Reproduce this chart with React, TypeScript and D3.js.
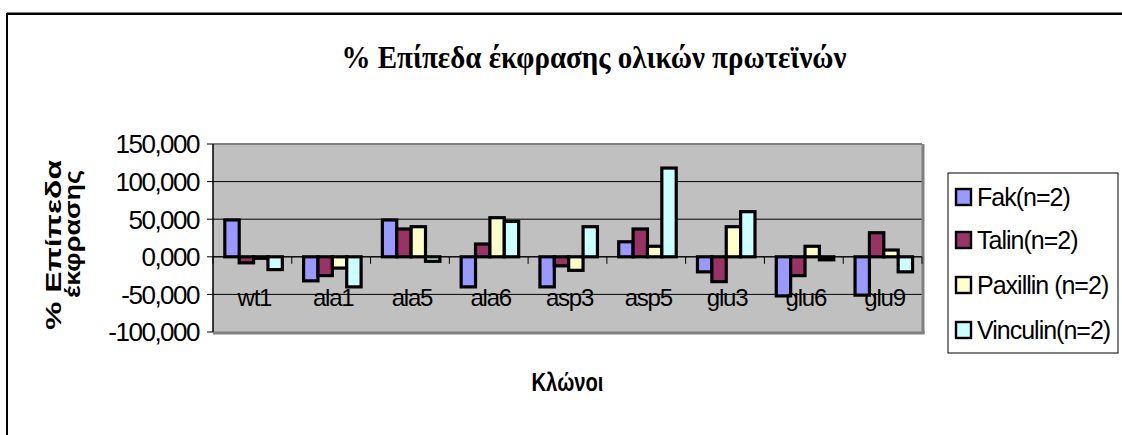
import React from 'react';
import * as d3 from 'd3';

// Clones on the category axis
const clones = ['wt1', 'ala1', 'ala5', 'ala6', 'asp3', 'asp5', 'glu3', 'glu6', 'glu9'];
// Series legend labels
const seriesNames = ['Fak(n=2)', 'Talin(n=2)', 'Paxillin (n=2)', 'Vinculin(n=2)'];
// % expression levels per clone
const fak = [49, -32, 49, -40, -40, 20, -20, -52, -51];
const talin = [-8, -25, 37, 17, -12, 37, -33, -25, 32];
const paxillin = [-2, -15, 40, 52, -18, 14, 40, 14, 9];
const vinculin = [-17, -40, -6, 47, 40, 118, 60, -4, -20];
const yTicks = [-100, -50, 0, 50, 100, 150];

const seriesValues = [fak, talin, paxillin, vinculin];
const colors = ['#9999FF', '#993366', '#FFFFCC', '#CCFFFF'];

const W = 1122;
const H = 435;
const plot = { left: 213, right: 922, top: 144, bottom: 332 };

const locale = d3.formatLocale({
  decimal: ',',
  thousands: '.',
  grouping: [3],
  currency: ['', '€'],
  minus: '-',
});
const fmt = locale.format('.3f');

const SANS = '"Liberation Sans", Arial, sans-serif';
const SERIF = '"Liberation Serif", "Times New Roman", serif';

export default function App() {
  const x0 = d3.scaleBand<string>().domain(clones).range([plot.left, plot.right]).padding(0);
  const bw = x0.bandwidth();
  const x1 = d3
    .scaleBand<number>()
    .domain(d3.range(seriesValues.length))
    .range([bw * 0.15, bw * 0.88])
    .padding(0);
  const y = d3.scaleLinear().domain([-100, 150]).range([plot.bottom, plot.top]);
  const y0 = y(0);

  const legendX = 948;
  const legendY = 173;
  const legendRows = [197, 240, 285, 330];

  return (
    <svg
      width={W}
      height={H}
      style={{ position: 'absolute', left: 0, top: 0, background: '#fff' }}
    >
      {/* chart frame */}
      <line x1={7} y1={12.5} x2={W} y2={12.5} stroke="#808080" strokeWidth={1} />
      <line x1={7} y1={14} x2={W} y2={14} stroke="#000" strokeWidth={2} />
      <line x1={7} y1={13} x2={7} y2={H} stroke="#000" strokeWidth={2} />

      {/* title */}
      <text
        x={594}
        y={68}
        textAnchor="middle"
        fontFamily={SERIF}
        fontWeight="bold"
        fontSize={32}
        textLength={505}
        lengthAdjust="spacingAndGlyphs"
      >
        % Επίπεδα  έκφρασης ολικών πρωτεϊνών
      </text>

      {/* plot area */}
      <rect
        x={plot.left}
        y={plot.top}
        width={plot.right - plot.left}
        height={plot.bottom - plot.top}
        fill="#C0C0C0"
      />
      {yTicks
        .filter((t) => t !== 150 && t !== -100)
        .map((t) => (
          <line key={t} x1={plot.left} x2={plot.right} y1={y(t)} y2={y(t)} stroke="#000" strokeWidth={1} />
        ))}
      {/* plot border */}
      <line x1={plot.left} x2={plot.right} y1={plot.top} y2={plot.top} stroke="#808080" strokeWidth={2} />
      <line x1={plot.right + 1} x2={plot.right + 1} y1={plot.top} y2={plot.bottom + 2} stroke="#808080" strokeWidth={3} />
      <line x1={plot.left} x2={plot.right + 2.5} y1={plot.bottom + 1} y2={plot.bottom + 1} stroke="#808080" strokeWidth={3} />

      {/* value axis */}
      <line x1={plot.left} x2={plot.left} y1={plot.top} y2={plot.bottom} stroke="#000" strokeWidth={1.5} />
      {yTicks.map((t) => (
        <g key={t}>
          <line x1={plot.left - 6} x2={plot.left} y1={y(t)} y2={y(t)} stroke="#000" strokeWidth={1} />
          <text
            x={199}
            y={y(t)}
            dy="0.36em"
            textAnchor="end"
            fontFamily={SANS}
            fontSize={26}
            letterSpacing={-1.5}
          >
            {fmt(t)}
          </text>
        </g>
      ))}

      {/* bars */}
      {clones.map((c, i) => (
        <g key={c} transform={`translate(${x0(c)},0)`}>
          {seriesValues.map((vals, s) => {
            const v = vals[i];
            const top = Math.min(y(v), y0);
            const h = Math.abs(y(v) - y0);
            return (
              <rect
                key={s}
                x={x1(s)}
                y={top}
                width={x1.bandwidth()}
                height={h}
                fill={colors[s]}
                stroke="#000"
                strokeWidth={3.2}
              />
            );
          })}
        </g>
      ))}

      {/* category axis at zero */}
      <line x1={plot.left} x2={plot.right} y1={y0} y2={y0} stroke="#000" strokeWidth={1} />
      {d3.range(clones.length + 1).map((k) => {
        const xx = plot.left + k * bw;
        return <line key={k} x1={xx} x2={xx} y1={y0} y2={y0 + 7} stroke="#000" strokeWidth={1} />;
      })}
      {clones.map((c) => (
        <text
          key={c}
          x={(x0(c) as number) + bw / 2 + 2}
          y={306}
          textAnchor="middle"
          fontFamily={SANS}
          fontSize={24}
          letterSpacing={-1.2}
        >
          {c}
        </text>
      ))}

      {/* axis titles */}
      <text
        transform={`translate(61,245) rotate(-90)`}
        textAnchor="middle"
        fontFamily={SANS}
        fontWeight="bold"
        fontSize={22}
        textLength={170}
        lengthAdjust="spacingAndGlyphs"
      >
        % Επίπεδα
      </text>
      <text
        transform={`translate(80,234) rotate(-90)`}
        textAnchor="middle"
        fontFamily={SANS}
        fontWeight="bold"
        fontSize={22}
        textLength={128}
        lengthAdjust="spacingAndGlyphs"
      >
        έκφρασης
      </text>
      <text
        x={(plot.left + plot.right) / 2}
        y={391}
        textAnchor="middle"
        fontFamily={SANS}
        fontWeight="bold"
        fontSize={26}
        textLength={72}
        lengthAdjust="spacingAndGlyphs"
      >
        Κλώνοι
      </text>

      {/* legend */}
      <rect x={legendX} y={legendY} width={170} height={180} fill="#fff" stroke="#000" strokeWidth={1} />
      {seriesNames.map((name, s) => (
        <g key={name}>
          <rect
            x={956}
            y={legendRows[s] - 8}
            width={15}
            height={16}
            fill={colors[s]}
            stroke="#000"
            strokeWidth={2.4}
          />
          <text
            x={977}
            y={legendRows[s]}
            dy="0.36em"
            fontFamily={SANS}
            fontSize={25}
            letterSpacing={-1}
          >
            {name}
          </text>
        </g>
      ))}
    </svg>
  );
}
